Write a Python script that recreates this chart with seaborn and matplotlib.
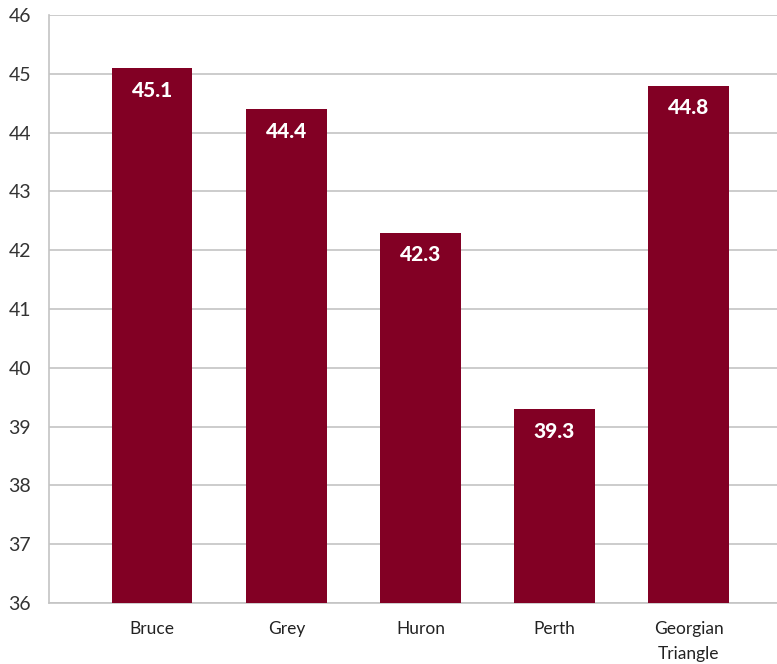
import matplotlib
matplotlib.use("Agg")
import matplotlib.pyplot as plt
import seaborn as sns
import pandas as pd

regions = ["Bruce", "Grey", "Huron", "Perth", "Georgian\nTriangle"]
values = [45.1, 44.4, 42.3, 39.3, 44.8]
yticks = [36, 37, 38, 39, 40, 41, 42, 43, 44, 45, 46]

sns.set_theme(style="white")
plt.rcParams['font.family'] = ['Lato', 'DejaVu Sans']

df = pd.DataFrame({"region": regions, "value": values})

fig = plt.figure(figsize=(7.77, 6.64), dpi=100)
ax = fig.add_axes([0.0631, 0.0919, 0.9369, 0.8855])

bar_color = "#820024"
sns.barplot(data=df, x="region", y="value", color=bar_color, saturation=1,
            width=0.6, ax=ax, zorder=3)
for p in ax.patches:
    p.set_edgecolor("none")

ax.set_ylim(36, 46)
ax.set_xlim(-0.77, 4.66)
ax.set_yticks(yticks)
ax.set_yticklabels([str(t) for t in yticks], fontsize=14, color="#333333")
ax.tick_params(axis="x", labelsize=12.5, colors="#222222", length=0, pad=13)
for lbl in ax.get_xticklabels():
    lbl.set_linespacing(1.7)
ax.tick_params(axis="y", length=0, pad=13)
ax.set_xlabel("")
ax.set_ylabel("")

ax.yaxis.grid(True, color="#c4c4c4", linewidth=1.2, zorder=0)
ax.set_axisbelow(True)
for s in ["top", "right"]:
    ax.spines[s].set_visible(False)
for s in ["left", "bottom"]:
    ax.spines[s].set_color("#c4c4c4")
    ax.spines[s].set_linewidth(1.2)

for i, v in enumerate(values):
    ax.annotate(f"{v:.1f}", xy=(i, v), xytext=(0, -16), textcoords="offset points",
                ha="center", va="center", color="white", fontsize=15,
                fontweight="black", zorder=5)

fig.savefig("out.png", dpi=100)
